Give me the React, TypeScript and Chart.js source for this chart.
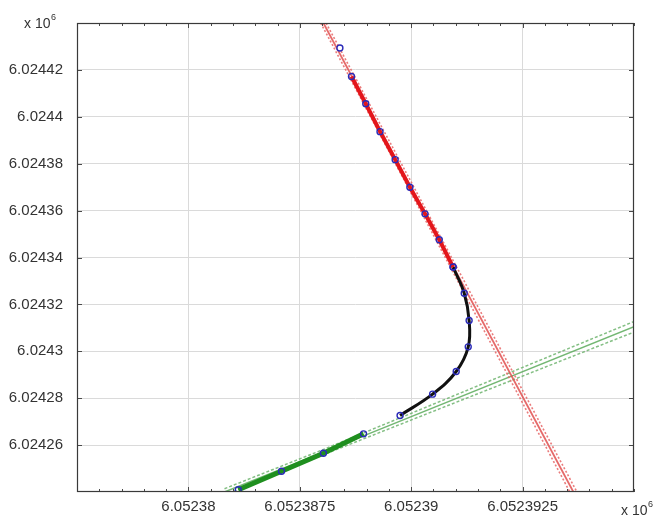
import React, { useEffect, useRef } from "react";
import { Chart, registerables } from "chart.js";

Chart.register(...registerables);

// Axis ranges (real units, labels shown in x 10^6)
const xMin = 6052382.5;
const xMax = 6052395;
const yMin = 6024240;
const yMax = 6024440;
const xMinorStep = 0.5;

const xTicks = [6052385, 6052387.5, 6052390, 6052392.5];
const xTickLabels = ["6.05238", "6.0523875", "6.05239", "6.0523925"];
const yTicks = [6024260, 6024280, 6024300, 6024320, 6024340, 6024360, 6024380, 6024400, 6024420];
const yTickLabels = ["6.02426", "6.02428", "6.0243", "6.02432", "6.02434", "6.02436", "6.02438", "6.0244", "6.02442"];

// Red (incoming) track points
const redX = [6052388.66, 6052388.98, 6052389.30, 6052389.64, 6052389.97, 6052390.31, 6052390.63, 6052390.94];
const redY = [6024417.18, 6024405.55, 6024393.66, 6024381.72, 6024369.96, 6024358.61, 6024347.56, 6024335.92];

// Outlier (open circle)
const outX = [6052388.40];
const outY = [6024429.37];

// Black turning curve
const blackX = [6052390.94, 6052391.19, 6052391.30, 6052391.28, 6052391.01, 6052390.48, 6052389.75];
const blackY = [6024335.92, 6024324.75, 6024313.11, 6024301.89, 6024291.39, 6024281.72, 6024272.65];

// Green (outgoing) track points
const greenX = [6052386.12, 6052387.09, 6052388.03, 6052388.93];
const greenY = [6024240.96, 6024248.82, 6024256.51, 6024264.79];

// Red fitted line and its bounds
const redFitX = [6052388.03, 6052393.64];
const redFitY = [6024440, 6024240];
const redUpX = [6052387.97, 6052393.56];
const redLoX = [6052388.09, 6052393.72];

// Green fitted line and its bounds
const greenFitX = [6052385.81, 6052388.0, 6052395];
const greenFitY = [6024240, 6024256.79, 6024310.46];
const greenUpY = [6024241.4, 6024257.9, 6024312.7];
const greenLoY = [6024238.6, 6024255.69, 6024308.2];

const pts = (xs: number[], ys: number[]) => xs.map((x, i) => ({ x, y: ys[i] }));

const FONT = "'Liberation Sans', Arial, Helvetica, sans-serif";
const MARKER = "#2a2ab8";

const framePlugin = {
  id: "frameTicks",
  afterDatasetsDraw(chart: any) {
    const ctx = chart.ctx;
    const { left, right, top, bottom } = chart.chartArea;
    const xs = chart.scales.x;
    const ys = chart.scales.y;
    ctx.save();
    ctx.strokeStyle = "#4a4a4a";
    ctx.lineWidth = 1;
    ctx.beginPath();
    for (let v = xMin; v <= xMax + 1e-6; v += xMinorStep) {
      const px = Math.round(xs.getPixelForValue(v)) + 0.5;
      const major = xTicks.some((t) => Math.abs(t - v) < 1e-6);
      const len = major ? 5 : 3;
      ctx.moveTo(px, bottom);
      ctx.lineTo(px, bottom - len);
      ctx.moveTo(px, top);
      ctx.lineTo(px, top + len);
    }
    yTicks.forEach((v) => {
      const py = Math.round(ys.getPixelForValue(v)) + 0.5;
      ctx.moveTo(left, py);
      ctx.lineTo(left + 5, py);
      ctx.moveTo(right, py);
      ctx.lineTo(right - 5, py);
    });
    ctx.stroke();
    ctx.strokeStyle = "#3a3a3a";
    ctx.lineWidth = 1.2;
    ctx.strokeRect(Math.round(left) + 0.5, Math.round(top) + 0.5, Math.round(right - left) - 1, Math.round(bottom - top) - 1);
    ctx.restore();
  },
  afterDraw(chart: any) {
    const ctx = chart.ctx;
    ctx.save();
    ctx.fillStyle = "#333";
    ctx.textBaseline = "alphabetic";
    ctx.textAlign = "left";
    ctx.font = `14px ${FONT}`;
    ctx.fillText("x 10", 24, 28);
    ctx.fillText("x 10", 621, 515);
    ctx.font = `9px ${FONT}`;
    ctx.fillText("6", 51, 20);
    ctx.fillText("6", 648, 507);
    ctx.restore();
  },
};

export default function App() {
  const ref = useRef<HTMLCanvasElement | null>(null);
  useEffect(() => {
    if (!ref.current) return;
    const thin = { pointRadius: 0, showLine: true, fill: false, clip: 0 };
    const chart = new Chart(ref.current, {
      type: "scatter",
      data: {
        datasets: [
          {
            label: "red track",
            data: pts(redX, redY),
            showLine: true,
            borderColor: "#e3161b",
            borderWidth: 4,
            pointRadius: 3,
            pointBorderColor: MARKER,
            pointBackgroundColor: "rgba(0,0,0,0)",
            pointBorderWidth: 1.4,
            order: 1,
            clip: 0,
          } as any,
          {
            label: "turn",
            data: pts(blackX, blackY),
            showLine: true,
            tension: 0.4,
            borderColor: "#111111",
            borderWidth: 3,
            pointRadius: 3,
            pointBorderColor: MARKER,
            pointBackgroundColor: "rgba(0,0,0,0)",
            pointBorderWidth: 1.4,
            order: 2,
            clip: 0,
          } as any,
          {
            label: "green track",
            data: pts(greenX, greenY),
            showLine: true,
            borderColor: "#1f8f1f",
            borderWidth: 5,
            pointRadius: 3,
            pointBorderColor: MARKER,
            pointBackgroundColor: "rgba(0,0,0,0)",
            pointBorderWidth: 1.4,
            order: 3,
            clip: 0,
          } as any,
          {
            label: "outlier",
            data: pts(outX, outY),
            showLine: false,
            pointRadius: 3,
            pointBorderColor: MARKER,
            pointBackgroundColor: "#ffffff",
            pointBorderWidth: 1.4,
            order: 0,
          } as any,
          { ...thin, label: "red fit", data: pts(redFitX, redFitY), borderColor: "rgba(225,80,80,0.85)", borderWidth: 1.8, order: 10 } as any,
          { ...thin, label: "red up", data: pts(redUpX, redFitY), borderColor: "rgba(230,100,100,0.85)", borderWidth: 1.6, borderDash: [2, 2], order: 11 } as any,
          { ...thin, label: "red lo", data: pts(redLoX, redFitY), borderColor: "rgba(230,100,100,0.85)", borderWidth: 1.6, borderDash: [2, 2], order: 12 } as any,
          { ...thin, label: "green fit", data: pts(greenFitX, greenFitY), borderColor: "rgba(90,170,90,0.85)", borderWidth: 1.5, order: 13 } as any,
          { ...thin, label: "green up", data: pts(greenFitX, greenUpY), borderColor: "rgba(110,180,110,0.85)", borderWidth: 1.5, borderDash: [3, 2], order: 14 } as any,
          { ...thin, label: "green lo", data: pts(greenFitX, greenLoY), borderColor: "rgba(110,180,110,0.85)", borderWidth: 1.5, borderDash: [3, 2], order: 15 } as any,
        ],
      },
      options: {
        animation: false,
        responsive: false,
        maintainAspectRatio: false,
        devicePixelRatio: 1,
        layout: { padding: { top: 19, right: 19, left: 0, bottom: 0 } },
        plugins: { legend: { display: false }, tooltip: { enabled: false } },
        scales: {
          x: {
            type: "linear",
            position: "bottom",
            min: xMin,
            max: xMax,
            afterBuildTicks: (s: any) => {
              s.ticks = xTicks.map((v) => ({ value: v }));
            },
            afterFit: (s: any) => {
              s.height = 20;
            },
            ticks: {
              callback: (v: any) => xTickLabels[xTicks.indexOf(Number(v))] ?? "",
              font: { family: FONT, size: 15 },
              color: "#333",
              padding: 6,
              maxRotation: 0,
              autoSkip: false,
            },
            grid: { color: "#dadada", lineWidth: 1, drawTicks: false },
            border: { display: false },
          },
          y: {
            type: "linear",
            position: "left",
            min: yMin,
            max: yMax,
            afterBuildTicks: (s: any) => {
              s.ticks = yTicks.map((v) => ({ value: v }));
            },
            afterFit: (s: any) => {
              s.width = 77;
            },
            ticks: {
              callback: (v: any) => yTickLabels[yTicks.indexOf(Number(v))] ?? "",
              font: { family: FONT, size: 15 },
              color: "#333",
              padding: 14,
              autoSkip: false,
            },
            grid: { color: "#dadada", lineWidth: 1, drawTicks: false },
            border: { display: false },
          },
        },
      } as any,
      plugins: [framePlugin],
    });
    return () => chart.destroy();
  }, []);
  return (
    <div style={{ position: "absolute", left: 0, top: 0, width: 653, height: 515, background: "#fff" }}>
      <canvas ref={ref} width={653} height={515} style={{ width: 653, height: 515 }} />
    </div>
  );
}
